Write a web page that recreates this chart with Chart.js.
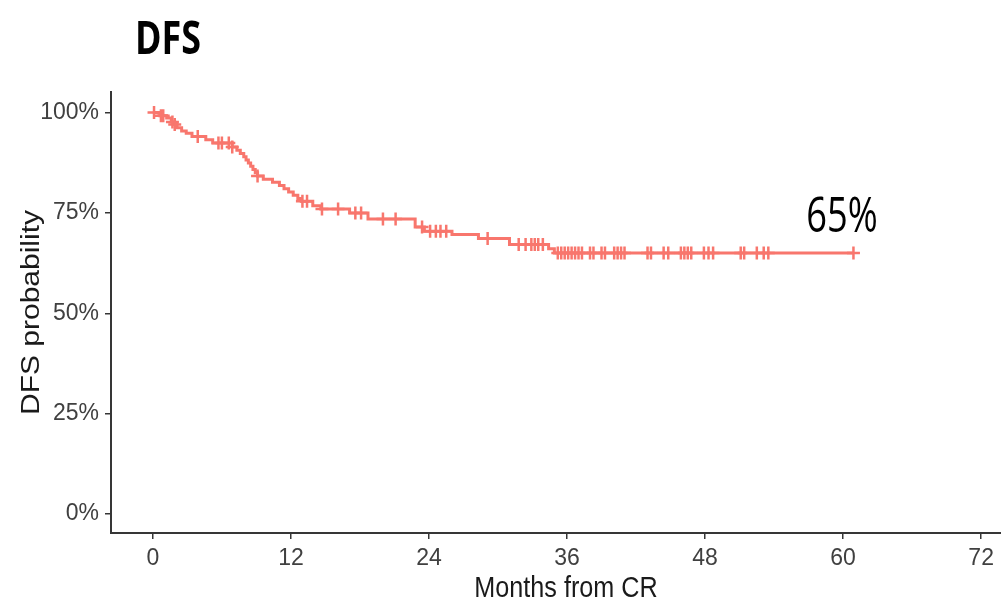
<!DOCTYPE html>
<html>
<head>
<meta charset="utf-8">
<title>DFS</title>
<script src="https://cdn.jsdelivr.net/npm/chart.js@4.4.1/dist/chart.umd.min.js"></script>
<style>
  html, body { margin: 0; padding: 0; background: #ffffff; overflow: hidden; }
  #dfsChart { display: block; }
</style>
</head>
<body>
<!-- a little wider than the window so the x axis runs to the right edge -->
<canvas id="dfsChart" width="1012" height="603"></canvas>
<script>
// Kaplan-Meier steps: month of each event and survival (%) after it
const eventMonths = [0, 0.6, 1.2, 1.6, 1.9, 2.1, 2.5, 2.9, 3.4, 4.6, 5.2, 6.9, 7.3, 7.6, 7.9, 8.1, 8.3, 8.5, 8.7, 8.9, 9.1, 9.6, 10.4, 11.0, 11.4, 11.8, 12.2, 12.6, 12.9, 13.9, 14.6, 17.1, 18.7, 22.8, 23.6, 26.0, 28.3, 31.0, 34.4, 34.9];
const survival = [100, 99.2, 98.6, 97.6, 97.0, 96.2, 95.4, 94.8, 94.0, 93.2, 92.4, 91.4, 90.6, 89.8, 89.0, 88.2, 87.4, 86.6, 85.8, 85.0, 84.2, 83.4, 82.6, 81.8, 81.0, 80.2, 79.4, 78.6, 77.9, 76.8, 76.0, 75.0, 73.5, 71.5, 70.4, 69.6, 68.6, 67.1, 66.1, 65.0];

// censored patients (months)
const censorMonths = [0.1, 0.7, 0.9, 1.7, 1.9, 3.9, 5.7, 6.0, 6.6, 6.9, 9.1, 13.0, 13.4, 14.7, 16.1, 17.6, 18.1, 20.0, 21.1, 23.4, 24.1, 24.6, 25.0, 25.5, 29.1, 31.8, 32.4, 32.9, 33.2, 33.5, 33.9, 35.2, 35.5, 35.8, 36.1, 36.4, 36.7, 37.0, 37.3, 38.0, 38.3, 39.0, 39.3, 40.1, 40.4, 40.7, 41.0, 43.0, 43.3, 44.4, 44.8, 45.9, 46.2, 46.5, 46.8, 47.9, 48.3, 48.7, 51.1, 51.4, 52.5, 53.1, 53.5, 60.9];

const lastFollowUp = 60.9;

const xTicks = [0, 12, 24, 36, 48, 60, 72];
const yTicks = [0, 25, 50, 75, 100];

const KM_RED = '#F8766D';
const AXIS = '#363636';

function survAt(t) {
  let s = survival[0];
  for (let i = 0; i < eventMonths.length; i++) {
    if (eventMonths[i] <= t) s = survival[i];
  }
  return s;
}

const curve = eventMonths.map((m, i) => ({ x: m, y: survival[i] }));
curve.push({ x: lastFollowUp, y: survival[survival.length - 1] });

const censors = censorMonths.map(m => ({ x: m, y: survAt(m) }));

// titles and the end-of-curve label, drawn straight on the canvas
const textPlugin = {
  id: 'dfsText',
  afterDraw(chart) {
    const ctx = chart.ctx;
    const xs = chart.scales.x;
    const ys = chart.scales.y;

    ctx.save();
    ctx.fillStyle = '#000000';
    ctx.textAlign = 'left';
    ctx.textBaseline = 'alphabetic';
    ctx.translate(135, 54);
    ctx.scale(0.78, 1);
    ctx.font = 'bold 46px "Open Sans", "DejaVu Sans", sans-serif';
    ctx.fillText('DFS', 0, 0);
    ctx.restore();

    // 65% at the plateau
    const endValue = survival[survival.length - 1];
    ctx.save();
    ctx.fillStyle = '#000000';
    ctx.textAlign = 'left';
    ctx.textBaseline = 'alphabetic';
    ctx.translate(xs.getPixelForValue(56.8), ys.getPixelForValue(70.2));
    ctx.scale(0.74, 1);
    ctx.font = '49px "Open Sans", "DejaVu Sans", sans-serif';
    ctx.fillText(Math.round(endValue) + '%', 0, 0);
    ctx.restore();

    // x axis title
    ctx.save();
    ctx.fillStyle = '#1a1a1a';
    ctx.textAlign = 'center';
    ctx.textBaseline = 'alphabetic';
    ctx.translate(566, 597);
    ctx.scale(0.84, 1);
    ctx.font = '30px "Liberation Sans", Arial, sans-serif';
    ctx.fillText('Months from CR', 0, 0);
    ctx.restore();

    // y axis title
    ctx.save();
    ctx.fillStyle = '#1a1a1a';
    ctx.textAlign = 'center';
    ctx.textBaseline = 'alphabetic';
    ctx.translate(39, (chart.chartArea.top + chart.chartArea.bottom) / 2);
    ctx.rotate(-Math.PI / 2);
    ctx.scale(1, 0.84);
    ctx.font = '30px "Liberation Sans", Arial, sans-serif';
    ctx.fillText('DFS probability', 0, 0);
    ctx.restore();
  }
};

const tickFont = { family: '"Liberation Sans Narrow", "Arial Narrow", "Liberation Sans", Arial, sans-serif', size: 23 };

new Chart(document.getElementById('dfsChart').getContext('2d'), {
  type: 'line',
  data: {
    datasets: [
      {
        label: 'DFS',
        data: curve,
        stepped: true,
        borderColor: KM_RED,
        borderWidth: 3,
        pointRadius: 0,
        fill: false
      },
      {
        label: 'Censored',
        data: censors,
        showLine: false,
        pointStyle: 'cross',
        pointRadius: 6.5,
        pointBorderWidth: 2.5,
        pointBorderColor: KM_RED,
        borderColor: KM_RED
      }
    ]
  },
  options: {
    responsive: false,
    animation: false,
    devicePixelRatio: 1,
    layout: { padding: { top: 92, right: 0, left: 0, bottom: 0 } },
    plugins: {
      legend: { display: false },
      tooltip: { enabled: false },
      title: { display: false }
    },
    scales: {
      x: {
        type: 'linear',
        min: -3.64,
        max: 73.9,
        afterBuildTicks: s => { s.ticks = xTicks.map(v => ({ value: v })); },
        afterFit: s => { s.height = 70; },
        ticks: {
          color: '#404040',
          font: tickFont,
          padding: 6,
          maxRotation: 0,
          autoSkip: false
        },
        grid: { drawOnChartArea: false, drawTicks: true, tickLength: 6, color: AXIS, lineWidth: 1.5 },
        border: { display: true, color: AXIS, width: 2 }
      },
      y: {
        min: -4.7,
        max: 105.1,
        afterBuildTicks: s => { s.ticks = yTicks.map(v => ({ value: v })); },
        afterFit: s => { s.width = 111; },
        ticks: {
          color: '#404040',
          font: tickFont,
          padding: 6,
          callback: v => v + '%'
        },
        grid: { drawOnChartArea: false, drawTicks: true, tickLength: 6, color: AXIS, lineWidth: 1.5 },
        border: { display: true, color: AXIS, width: 2 }
      }
    }
  },
  plugins: [textPlugin]
});
</script>
</body>
</html>
